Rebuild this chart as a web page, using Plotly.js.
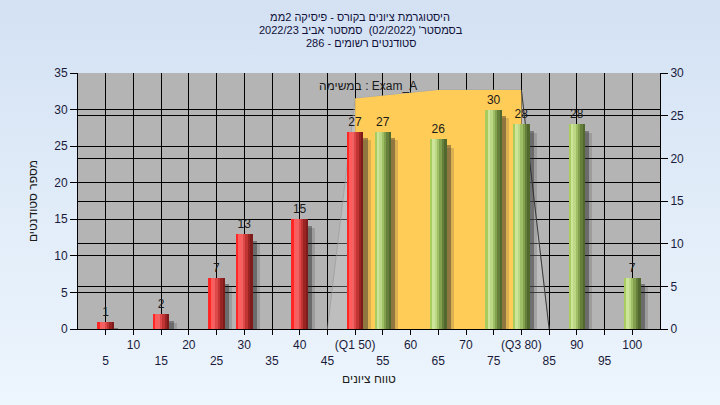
<!DOCTYPE html>
<html>
<head>
<meta charset="utf-8">
<script src="https://cdn.plot.ly/plotly-3.0.1.min.js"></script>
<style>
  html, body { margin: 0; padding: 0; }
  body { width: 720px; height: 405px; background: linear-gradient(to bottom, #d3e1f3 0%, #e2edf9 55%, #edf5fd 100%); }
  #chart { width: 720px; height: 405px; }
</style>
</head>
<body>
<div id="chart"></div>
<script>
// ---- data ----
const scores = [5, 15, 25, 30, 40, 50, 55, 65, 75, 80, 90, 100];
const counts = [1, 2, 7, 13, 15, 27, 27, 26, 30, 28, 28, 7];
const tickValues = [5, 10, 15, 20, 25, 30, 35, 40, 45, 50, 55, 60, 65, 70, 75, 80, 85, 90, 95, 100];
const tickLabels = ['5', '10', '15', '20', '25', '30', '35', '40', '45', '(Q1 50)', '55', '60', '65', '70', '75', '(Q3 80)', '85', '90', '95', '100'];
const outerX = [45, 50, 65, 80, 85];
const outerY = [0, 27, 28, 28, 0];
const innerX = [50, 50, 65, 80, 80];
const innerY = [0, 27, 28, 28, 0];
const passMark = 50;

const titleLines = ['היסטוגרמת ציונים בקורס - פיסיקה 2ממ', "בסמסטר' (02/2022)  סמסטר אביב 2022/23", 'סטודנטים רשומים - 286'];
const xTitle = 'טווח ציונים';
const yTitle = 'מספר סטודנטים';
const areaLabel = 'במשימה : Exam_A';

// ---- styles ----
const FONT = 'Liberation Sans, Arial, sans-serif';
const TXT = '#1a1a3a';
const TITLE_COLOR = '#10103a';

const redShades = ['#ff2626', '#ff5c5c', '#f26262', '#de4848', '#c13434', '#9a2424', '#7e1c1c'];
const greenShades = ['#a9cc5e', '#cde59a', '#bcd884', '#9fbf66', '#82a04e', '#66803c', '#51682f'];

const W = 3.0;
const traces = [];

// area (on right axis 'y')
traces.push({
  type: 'scatter', mode: 'lines', x: outerX, y: outerY, yaxis: 'y', xaxis: 'x',
  fill: 'toself', fillcolor: 'rgba(215,215,215,0.3)',
  line: { color: 'rgba(150,150,150,0.6)', width: 1 }, hoverinfo: 'skip', showlegend: false
});
traces.push({
  type: 'scatter', mode: 'lines', x: innerX, y: innerY, yaxis: 'y', xaxis: 'x',
  fill: 'toself', fillcolor: '#ffcc57',
  line: { color: '#ffcc57', width: 0 }, hoverinfo: 'skip', showlegend: false
});
// right edge of the area drawn darker
traces.push({
  type: 'scatter', mode: 'lines', x: outerX.slice(-2), y: outerY.slice(-2), yaxis: 'y', xaxis: 'x',
  line: { color: '#3a3a3a', width: 1 }, hoverinfo: 'skip', showlegend: false
});

// shadows (bars on left axis 'y2')
traces.push({
  type: 'bar', x: scores, y: counts.map(v => Math.max(v - 1.2, 0)), yaxis: 'y2',
  offset: -W / 2 + 1.3, width: W, marker: { color: 'rgba(50,50,50,0.18)', line: { width: 0 } },
  hoverinfo: 'skip', showlegend: false
});
traces.push({
  type: 'bar', x: scores, y: counts.map(v => Math.max(v - 0.9, 0)), yaxis: 'y2',
  offset: -W / 2 + 0.75, width: W, marker: { color: 'rgba(40,40,40,0.42)', line: { width: 0 } },
  hoverinfo: 'skip', showlegend: false
});

// gradient stripes (each covers from its start to the right edge)
const nS = redShades.length;
for (let i = 0; i < nS; i++) {
  const start = -W / 2 + i * (W / nS);
  traces.push({
    type: 'bar', x: scores, y: counts, yaxis: 'y2',
    offset: start, width: W / 2 - start,
    marker: { color: scores.map(s => s <= passMark ? redShades[i] : greenShades[i]), line: { width: 0 } },
    hoverinfo: 'skip', showlegend: false
  });
}

// value labels
traces.push({
  type: 'bar', x: scores, y: counts, yaxis: 'y2',
  offset: -W / 2, width: W,
  marker: { color: 'rgba(0,0,0,0)', line: { width: 0 } },
  text: counts.map(String), textposition: 'outside', cliponaxis: false,
  textfont: { family: FONT, size: 12, color: '#1a1a1a' },
  hoverinfo: 'skip', showlegend: false
});

const axisCommon = {
  showline: true, linecolor: '#000', linewidth: 1,
  ticks: 'outside', ticklen: 7, tickcolor: '#000', tickwidth: 1,
  showgrid: true, gridcolor: '#000', gridwidth: 1,
  zeroline: false, tickfont: { family: FONT, size: 12, color: TXT }
};

const PLOT_T = 73, PLOT_B = 329, PLOT_L = 78, PLOT_R = 660;
const py = yPix => (PLOT_B - yPix) / (PLOT_B - PLOT_T);
const px = xPix => (xPix - PLOT_L) / (PLOT_R - PLOT_L);

const layout = {
  width: 720, height: 405,
  paper_bgcolor: 'rgba(0,0,0,0)', plot_bgcolor: '#b4b4b4',
  margin: { l: 78, r: 60, t: 73, b: 76 },
  barmode: 'overlay', bargap: 0,
  showlegend: false,
  title: {
    text: titleLines[0],
    font: { family: FONT, size: 11, color: TITLE_COLOR },
    x: 0.5, xanchor: 'center', y: 1 - 17 / 405, yanchor: 'middle', yref: 'container'
  },
  xaxis: Object.assign({}, axisCommon, {
    range: [0, 105], tickmode: 'array', tickvals: tickValues,
    ticktext: tickLabels.map((t, i) => i % 2 === 0 ? '\u00a0<br>' + t : t),
    ticklen: 5, tickangle: 0,
    title: { text: xTitle, font: { family: FONT, size: 12, color: '#1a1a1a' }, standoff: 7 }
  }),
  yaxis: Object.assign({}, axisCommon, {
    side: 'right', range: [0, 30], dtick: 5, tick0: 0
  }),
  yaxis2: Object.assign({}, axisCommon, {
    side: 'left', overlaying: 'y', range: [0, 35], dtick: 5, tick0: 0,
    title: { text: yTitle, font: { family: FONT, size: 12, color: '#1a1a1a' }, standoff: 14 }
  }),
  annotations: [
    {
      xref: 'paper', yref: 'paper', x: px(361), y: py(30),
      xanchor: 'center', yanchor: 'middle', showarrow: false,
      text: titleLines[1], font: { family: FONT, size: 11, color: TITLE_COLOR }
    },
    {
      xref: 'paper', yref: 'paper', x: px(361), y: py(43),
      xanchor: 'center', yanchor: 'middle', showarrow: false,
      text: titleLines[2], font: { family: FONT, size: 11, color: TITLE_COLOR }
    },
    {
      xref: 'paper', yref: 'paper', x: px(368), y: py(86),
      xanchor: 'center', yanchor: 'middle', showarrow: false,
      text: areaLabel, font: { family: FONT, size: 12, color: '#1a1a1a' }
    }
  ]
};

Plotly.newPlot('chart', traces, layout, { staticPlot: true, displayModeBar: false });
</script>
</body>
</html>
